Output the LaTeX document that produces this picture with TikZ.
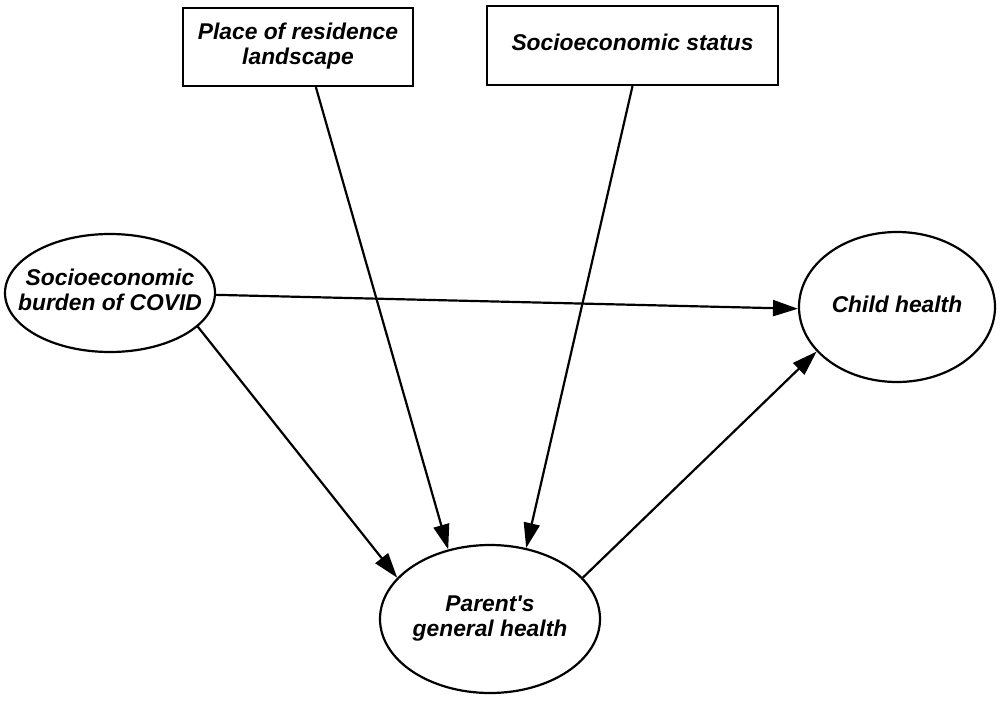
\documentclass[tikz,border=0pt]{standalone}
\usepackage{fontspec}
\setmainfont{Liberation Sans}
\usetikzlibrary{arrows.meta,shapes.geometric}
\newcommand{\zwtext}[1]{\makebox[0pt]{\begin{tabular}{@{}c@{}}#1\end{tabular}}}
\begin{document}
\begin{tikzpicture}[x=1pt,y=-1pt,
  lbl/.style={font=\fontsize{22.8}{25}\selectfont\bfseries\itshape, align=center, inner sep=0pt},
  boxnode/.style={lbl, draw, line width=2.2pt, rectangle, minimum width=#1},
  ellnode/.style={lbl, draw, line width=2.2pt, ellipse},
  conn/.style={line width=2.2pt, -{Triangle[length=25pt,width=16pt]}}]
\useasboundingbox (0,0) rectangle (1000,706);
\node[boxnode=230pt, minimum height=78pt] (res) at (298,47) {\zwtext{Place of residence\\landscape}};
\node[boxnode=291pt, minimum height=79pt] (ses) at (632.5,45.5) {\zwtext{Socioeconomic status}};
\node[ellnode, minimum width=210pt, minimum height=118pt] (bur) at (110,293) {\zwtext{Socioeconomic\\burden of COVID}};
\node[ellnode, minimum width=196pt, minimum height=150pt] (chi) at (897,307) {\zwtext{Child health}};
\node[ellnode, minimum width=220pt, minimum height=148pt] (par) at (490,619) {\zwtext{Parent\textquotesingle s\\general health}};
\draw[conn] (res.-66.4) -- (par.121.9);
\draw[conn] (ses.-90) -- (par.63.1);
\draw[conn] (bur.-21.7) -- (par.156.2);
\draw[conn] (bur.-1) -- (chi.181);
\draw[conn] (par.24.5) -- (chi.209.7);
\end{tikzpicture}
\end{document}
